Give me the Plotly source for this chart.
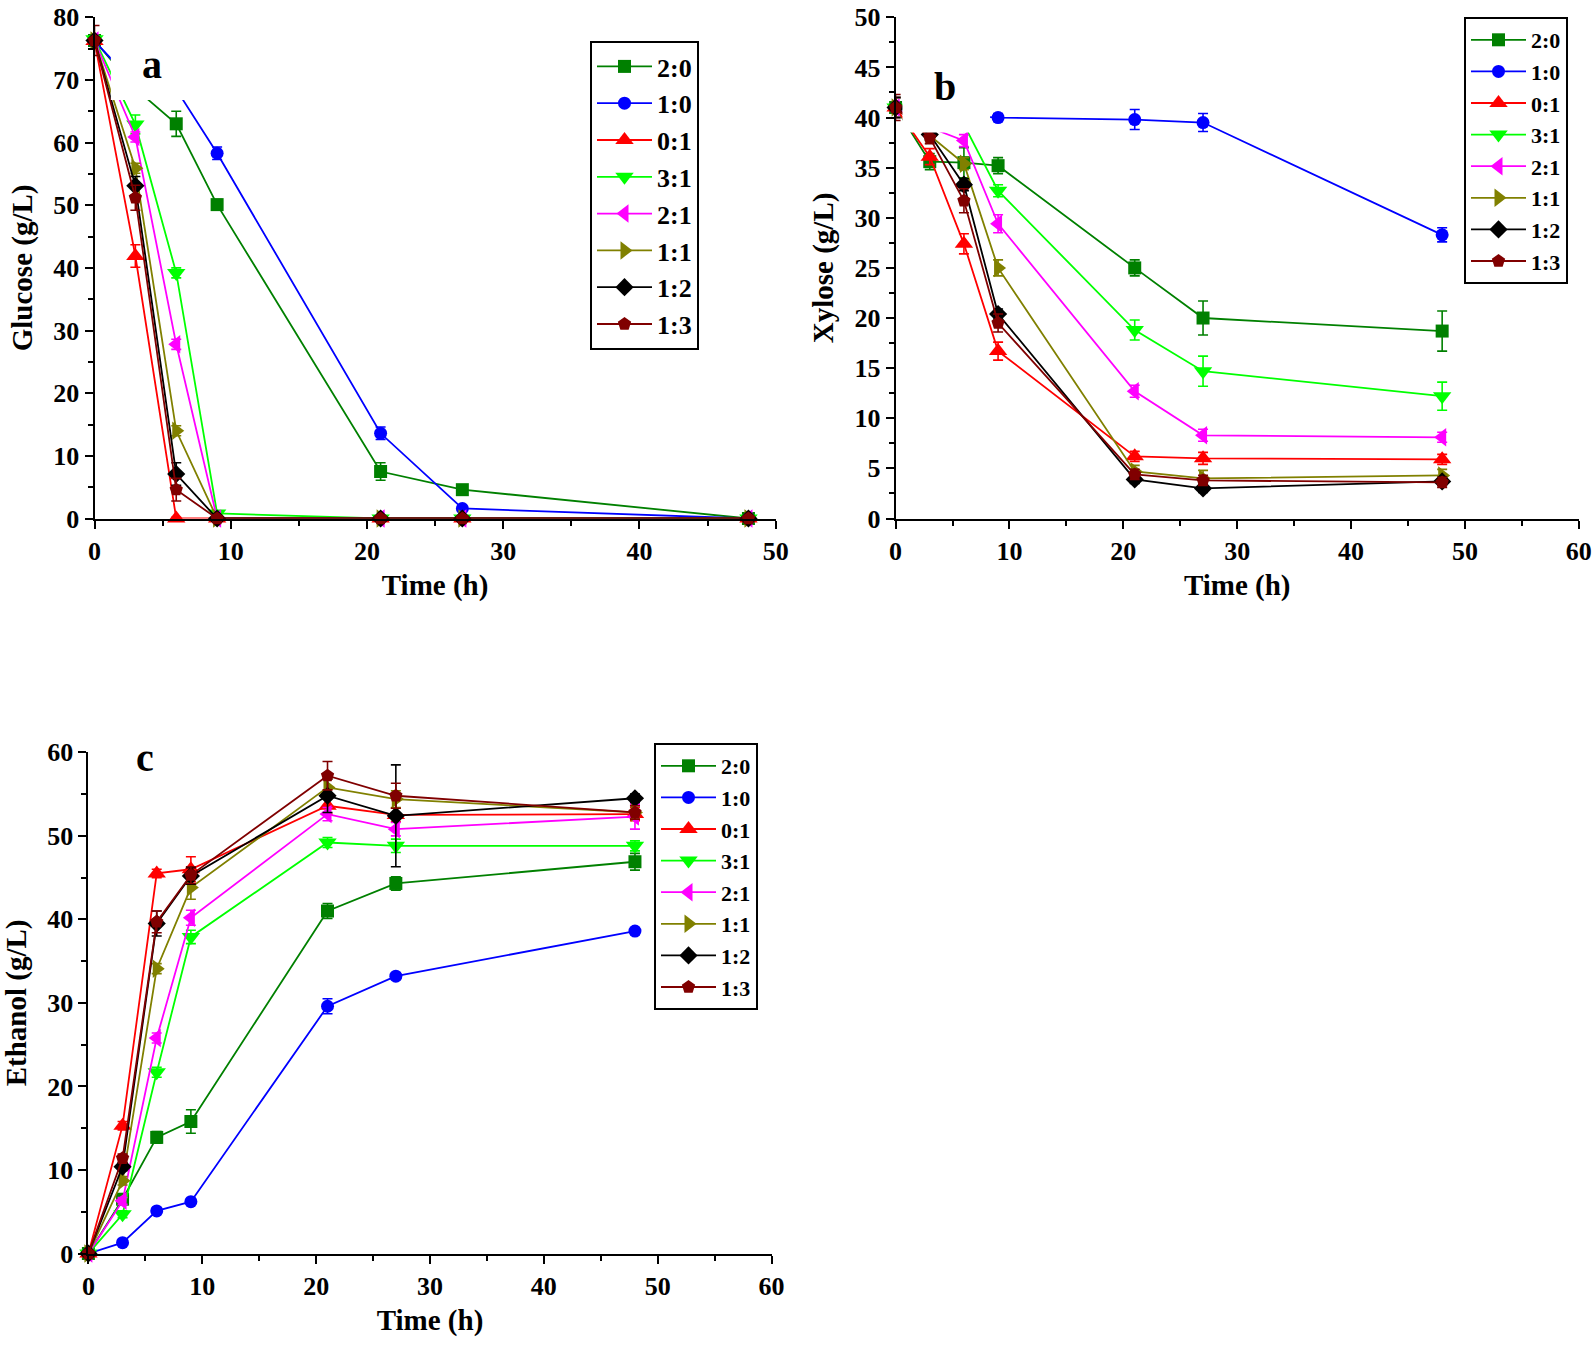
import plotly.graph_objects as go

# sampling times (h) and the glucose:xylose ratios
times = [0, 3, 6, 9, 21, 27, 48]
ratios = ["2:0", "1:0", "0:1", "3:1", "2:1", "1:1", "1:2", "1:3"]

colors = ["#008000", "#0000FF", "#FF0000", "#00FF00", "#FF00FF", "#808000", "#000000", "#800000"]
symbols = ["square", "circle", "triangle-up", "triangle-down", "triangle-left",
           "triangle-right", "diamond", "pentagon"]
sizes = [13, 13, 16, 16, 16, 16, 14, 14]

# panel a - glucose (g/L)
glucose = {
    "2:0": [76.3, 68.6, 63.0, 50.1, 7.5, 4.6, 0.0],
    "1:0": [76.2, 69.3, 68.5, 58.3, 13.6, 1.6, 0.0],
    "0:1": [76.2, 41.9, 0.0, 0.0, 0.0, 0.0, 0.0],
    "3:1": [76.5, 62.9, 39.2, 0.8, 0.0, 0.0, 0.0],
    "2:1": [76.3, 60.9, 27.8, 0.0, 0.0, 0.0, 0.0],
    "1:1": [76.3, 55.9, 14.0, 0.0, 0.0, 0.0, 0.0],
    "1:2": [76.3, 53.1, 7.1, 0.0, 0.0, 0.0, 0.0],
    "1:3": [76.3, 51.2, 4.6, 0.0, 0.0, 0.0, 0.0],
}
glucose_err = {
    "2:0": [0.5, 0.5, 2.0, 0.8, 1.4, 0.5, 0.2],
    "1:0": [0.5, 0.5, 0.5, 1.0, 1.0, 0.3, 0.2],
    "0:1": [0.5, 1.8, 0.2, 0.2, 0.2, 0.2, 0.2],
    "3:1": [0.5, 1.5, 0.8, 0.3, 0.2, 0.2, 0.2],
    "2:1": [0.5, 0.8, 0.8, 0.2, 0.2, 0.2, 0.2],
    "1:1": [0.5, 0.8, 0.8, 0.2, 0.2, 0.2, 0.2],
    "1:2": [0.5, 1.5, 1.8, 0.2, 0.2, 0.2, 0.2],
    "1:3": [2.4, 2.0, 1.8, 0.2, 0.2, 0.2, 0.2],
}

# panel b - xylose (g/L)
xylose = {
    "2:0": [41.0, 35.6, 35.5, 35.2, 25.0, 20.0, 18.7],
    "1:0": [41.0, 40.5, 40.2, 40.0, 39.8, 39.5, 28.3],
    "0:1": [41.0, 36.1, 27.4, 16.7, 6.2, 6.0, 5.9],
    "3:1": [41.0, 39.6, 39.3, 32.7, 18.8, 14.7, 12.2],
    "2:1": [41.0, 39.0, 37.7, 29.4, 12.7, 8.3, 8.1],
    "1:1": [41.0, 38.2, 35.4, 25.0, 4.7, 4.0, 4.3],
    "1:2": [41.0, 38.3, 33.3, 20.4, 3.9, 3.0, 3.7],
    "1:3": [41.0, 38.0, 31.7, 19.5, 4.4, 3.8, 3.6],
}
xylose_err = {
    "2:0": [1.0, 0.8, 1.5, 0.8, 0.8, 1.7, 2.0],
    "1:0": [1.0, 0.5, 0.5, 0.4, 1.0, 0.9, 0.7],
    "0:1": [1.0, 0.8, 1.0, 0.9, 0.5, 0.6, 0.5],
    "3:1": [1.0, 0.5, 0.5, 0.6, 1.0, 1.5, 1.4],
    "2:1": [1.0, 0.5, 0.6, 0.9, 0.6, 0.6, 0.5],
    "1:1": [1.0, 0.5, 0.6, 0.8, 0.6, 0.8, 0.6],
    "1:2": [1.0, 0.5, 0.6, 0.5, 0.4, 0.4, 0.4],
    "1:3": [1.3, 0.6, 1.2, 0.9, 0.5, 0.5, 0.5],
}

# panel c - ethanol (g/L)
ethanol = {
    "2:0": [0.0, 6.5, 13.9, 15.8, 41.0, 44.3, 46.9],
    "1:0": [0.0, 1.3, 5.1, 6.2, 29.6, 33.2, 38.6],
    "0:1": [0.0, 15.3, 45.5, 46.0, 53.6, 52.5, 52.6],
    "3:1": [0.0, 4.7, 21.7, 37.9, 49.2, 48.8, 48.8],
    "2:1": [0.0, 6.3, 25.8, 40.2, 52.6, 50.8, 52.3],
    "1:1": [0.0, 8.7, 34.1, 43.8, 55.8, 54.4, 52.8],
    "1:2": [0.0, 10.4, 39.5, 45.2, 54.8, 52.4, 54.5],
    "1:3": [0.0, 11.4, 39.7, 45.3, 57.2, 54.8, 52.8],
}
ethanol_err = {
    "2:0": [0.2, 0.6, 0.7, 1.4, 0.9, 0.8, 1.0],
    "1:0": [0.2, 0.3, 0.3, 0.3, 0.9, 0.4, 0.4],
    "0:1": [0.2, 0.5, 0.5, 1.5, 1.0, 0.8, 0.8],
    "3:1": [0.2, 0.4, 0.6, 0.8, 0.6, 0.8, 0.6],
    "2:1": [0.2, 0.4, 0.6, 0.9, 0.8, 0.8, 1.5],
    "1:1": [0.2, 0.5, 0.6, 1.4, 1.0, 1.0, 0.8],
    "1:2": [0.2, 0.5, 1.5, 1.0, 2.0, 6.1, 0.5],
    "1:3": [0.2, 0.5, 1.3, 1.0, 1.7, 1.5, 0.8],
}

W, H = 1594, 1345
FONT = "Liberation Serif"

panels = [
    # data, errors, xaxis, yaxis, legend
    (glucose, glucose_err, "x", "y", "legend"),
    (xylose, xylose_err, "x2", "y2", "legend2"),
    (ethanol, ethanol_err, "x3", "y3", "legend3"),
]

fig = go.Figure()
for data, errs, xa, ya, leg in panels:
    for name, col, sym, sz in zip(ratios, colors, symbols, sizes):
        fig.add_trace(go.Scatter(
            x=times, y=data[name], name=name, mode="lines+markers",
            xaxis=xa, yaxis=ya, legend=leg, cliponaxis=False,
            line=dict(color=col, width=1.8),
            marker=dict(symbol=sym, size=sz, color=col),
            error_y=dict(type="data", array=errs[name], color=col,
                         thickness=1.6, width=5),
        ))


def px_x(p):
    return p / W


def px_y(p):
    return 1 - p / H


def axis_style(domain, rng, dtick, minor, title, anchor, standoff):
    return dict(
        domain=domain, range=rng, dtick=dtick, anchor=anchor, automargin=False,
        showline=True, linewidth=2, linecolor="black", mirror=False,
        ticks="outside", ticklen=8, tickwidth=2, tickcolor="black",
        ticklabeloverflow="allow",
        showgrid=False, zeroline=False,
        minor=dict(ticks="outside", ticklen=5, tickwidth=2, tickcolor="black",
                   dtick=minor, showgrid=False),
        tickfont=dict(family=FONT, size=26, color="black", weight="bold"),
        title=dict(text=title, standoff=standoff,
                   font=dict(family=FONT, size=29, color="black", weight="bold")),
    )


legend_base = dict(
    bgcolor="white", bordercolor="black", borderwidth=2,
    xanchor="left", yanchor="top", itemwidth=55,
)

fig.update_layout(
    width=W, height=H,
    margin=dict(l=0, r=0, t=0, b=0),
    plot_bgcolor="white", paper_bgcolor="white",
    xaxis=axis_style([px_x(94.5), px_x(775.7)], [0, 50], 10, 5, "Time (h)", "y", 10),
    yaxis=axis_style([px_y(518.5), px_y(17.3)], [0, 80], 10, 5, "Glucose (g/L)", "x", 12),
    xaxis2=axis_style([px_x(895.6), px_x(1578.8)], [0, 60], 10, 5, "Time (h)", "y2", 10),
    yaxis2=axis_style([px_y(518.5), px_y(17.3)], [0, 50], 5, 2.5, "Xylose (g/L)", "x2", 12),
    xaxis3=axis_style([px_x(88.4), px_x(771.6)], [0, 60], 10, 5, "Time (h)", "y3", 10),
    yaxis3=axis_style([px_y(1253.5), px_y(752.3)], [0, 60], 10, 5, "Ethanol (g/L)", "x3", 12),
    legend=dict(legend_base, x=px_x(590), y=px_y(41),
                font=dict(family=FONT, size=26, color="black", weight="bold")),
    legend2=dict(legend_base, x=px_x(1464), y=px_y(17),
                 font=dict(family=FONT, size=22, color="black", weight="bold")),
    legend3=dict(legend_base, x=px_x(654), y=px_y(743),
                 font=dict(family=FONT, size=22, color="black", weight="bold")),
    shapes=[
        # white frames behind the panel letters, they hide the lines beneath
        dict(type="rect", xref="x", yref="y", x0=1.2, x1=8.8, y0=66.8, y1=79,
             fillcolor="white", line=dict(width=0), layer="above"),
        dict(type="rect", xref="x2", yref="y2", x0=0.6, x1=8.3, y0=38.5, y1=49,
             fillcolor="white", line=dict(width=0), layer="above"),
    ],
    annotations=[
        dict(text=t, x=px_x(xp), y=px_y(yp), xref="paper", yref="paper",
             showarrow=False, xanchor="center", yanchor="middle",
             font=dict(family=FONT, size=40, color="black", weight="bold"))
        for t, xp, yp in [("a", 152, 64), ("b", 945, 86), ("c", 145, 757)]
    ],
)

# drop the default page margin so the figure sits at the window's corner
fig.write_html("out.html", config={"displayModeBar": False},
               post_script="document.body.style.margin = '0px';")
